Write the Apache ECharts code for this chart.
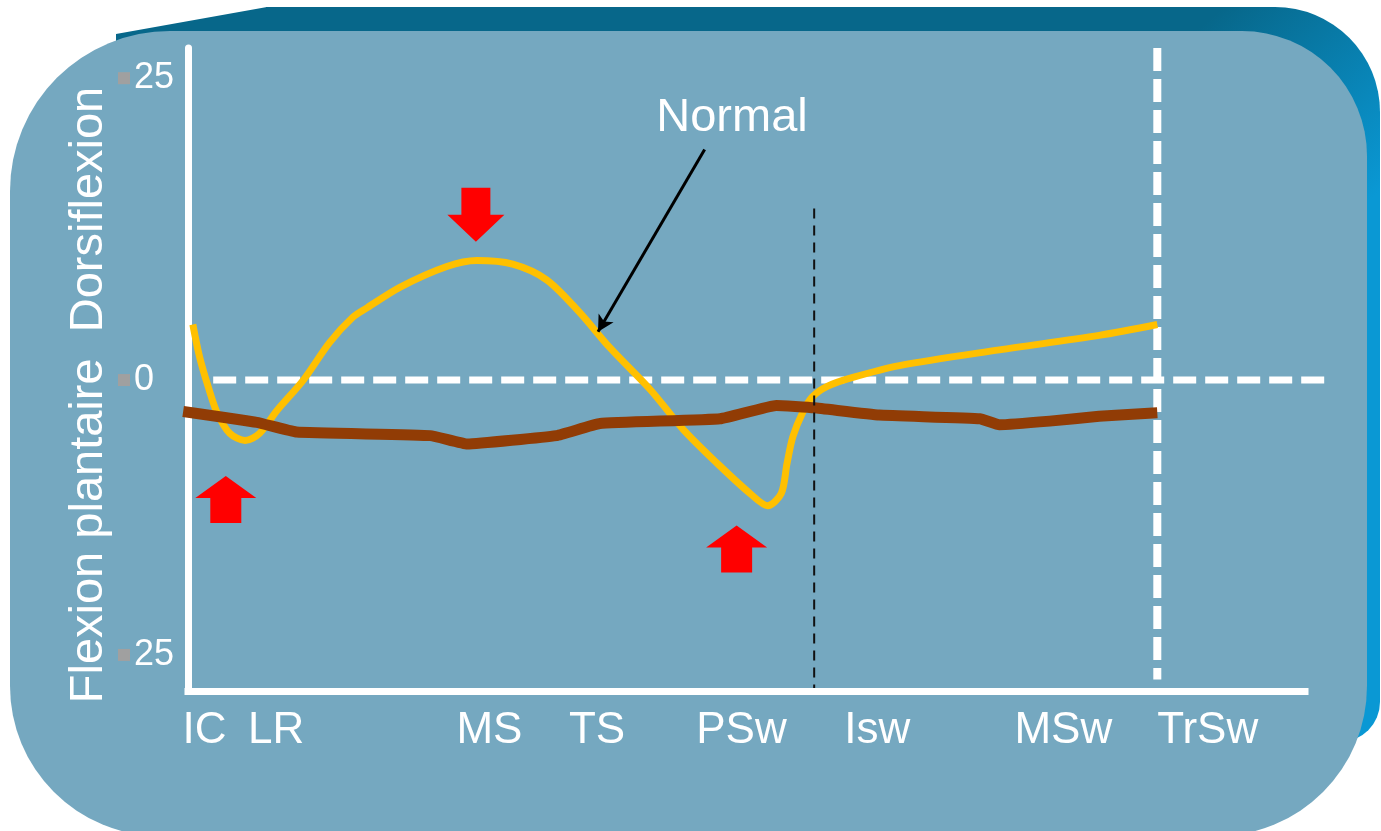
<!DOCTYPE html>
<html>
<head>
<meta charset="utf-8">
<title>Cheville - cycle de marche</title>
<script src="https://cdn.jsdelivr.net/npm/echarts@6/dist/echarts.min.js"></script>
<style>
html, body { margin: 0; padding: 0; background: #fff; }
#grafico { width: 1381px; height: 831px; }
</style>
</head>
<body>
<div id="grafico"></div>
<script>
// phases du cycle de marche (position en % du cycle)
const phases = ['IC', 'LR', 'MS', 'TS', 'PSw', 'Isw', 'MSw', 'TrSw'];
const phasesPos = [1.7, 9.1, 31.1, 42.2, 57.1, 71.1, 90.3, 105.2];

const yTicks = [25, 0, -25];
const yTicksTexte = ['25', '0', '25'];

// courbe normale (jaune)
const normalX = [0.5, 1.2, 2.1, 3.0, 4.3, 5.9, 7.4, 9.2, 11.9, 14.6, 17.0, 18.5, 21.9, 26.7, 29.8, 33.5, 37.0, 40.4, 43.5, 47.7, 51.1, 54.6, 58.0, 59.8, 61.2, 61.8, 62.4, 63.4, 64.4, 66.0, 68.5, 73.4, 83.7, 94.0, 100];
const normalY = [4.6, 1.9, -0.6, -2.7, -4.4, -5.0, -4.4, -2.5, 0, 3.1, 5.2, 6.0, 7.7, 9.4, 9.9, 9.6, 8.3, 5.6, 2.7, -0.8, -4.1, -6.9, -9.4, -10.4, -9.4, -6.9, -4.7, -2.7, -1.4, -0.5, 0.2, 1.2, 2.5, 3.7, 4.6];

// courbe du patient (marron)
const patientX = [-0.5, 7.1, 11.2, 25.0, 28.8, 38.0, 42.5, 54.9, 60.7, 64.6, 71.3, 81.7, 83.7, 88.9, 94.0, 100];
const patientY = [-2.6, -3.5, -4.3, -4.6, -5.3, -4.6, -3.6, -3.2, -2.1, -2.3, -2.9, -3.2, -3.7, -3.4, -3.0, -2.7];

// lignes de repere
const zeroDebut = 2.6, zeroFin = 117.3;
const finAppui = 64.6;
const finCycle = 100;

// fleches rouges [x, y]
const flechesHaut = [[3.9, -9.9], [56.6, -14.0]];
const flechesBas = [[29.7, 13.7]];

// fleche "Normal"
const normalDebut = [53.3, 19.1];
const normalFin = [42.3, 4.0];

// echelles
const xMaxAxe = 115.2;   // fin de l'axe horizontal dessine
const xMaxTrace = 117.3; // la ligne du zero depasse un peu l'axe
const yMin = -25.75, yMax = 27.5;

const police = '"Liberation Sans", Arial, sans-serif';

function zip(xs, ys) {
    return xs.map((x, i) => [x, ys[i]]);
}

let chart = echarts.init(document.getElementById('grafico'));

const option = {
    animation: false,
    backgroundColor: '#fff',
    grid: [
        { left: 188, right: 56, top: 48, bottom: 140 },
        { left: 188, right: 76, top: 48, bottom: 140 }
    ],
    xAxis: [
        {
            gridIndex: 0,
            type: 'value',
            min: 0,
            max: xMaxTrace,
            axisLine: { show: false },
            axisTick: { show: false },
            splitLine: { show: false },
            axisLabel: {
                customValues: phasesPos,
                formatter: v => phases[phasesPos.indexOf(v)],
                color: '#fff',
                fontSize: 44,
                fontFamily: police,
                margin: 18
            }
        },
        {
            gridIndex: 1,
            type: 'value',
            min: 0,
            max: xMaxAxe,
            axisLine: { show: true, onZero: false, lineStyle: { color: '#fff', width: 7, cap: 'square' } },
            axisTick: { show: false },
            splitLine: { show: false },
            axisLabel: { show: false }
        }
    ],
    yAxis: [
        {
            gridIndex: 0,
            type: 'value',
            min: yMin,
            max: yMax,
            axisLine: { show: true, onZero: false, lineStyle: { color: '#fff', width: 7 } },
            axisTick: { show: false },
            splitLine: { show: false },
            axisLabel: {
                customValues: yTicks,
                margin: 70,
                align: 'left',
                formatter: function (v) {
                    const t = yTicksTexte[yTicks.indexOf(v)];
                    return v < 0 ? '{sq|}{n|' + t + '}\n{n| }' : '{sq|}{n|' + t + '}';
                },
                rich: {
                    sq: { width: 12, height: 12, backgroundColor: '#a0a0a0', lineHeight: 54 },
                    n: { color: '#fff', fontSize: 36, fontFamily: police, lineHeight: 54, padding: [0, 0, 0, 4] }
                }
            }
        },
        {
            gridIndex: 1,
            type: 'value',
            min: yMin,
            max: yMax,
            axisLine: { show: false },
            axisTick: { show: false },
            splitLine: { show: false },
            axisLabel: { show: false }
        }
    ],
    graphic: [
        {
            type: 'rect', z: -20, silent: true,
            shape: { x: 266, y: 7, width: 1114, height: 735, r: [0, 105, 40, 0] },
            style: {
                fill: new echarts.graphic.LinearGradient(0.86, 0, 1, 0.25, [
                    { offset: 0, color: '#07678a' },
                    { offset: 1, color: '#0a98d4' }
                ])
            }
        },
        {
            type: 'polygon', z: -20, silent: true,
            shape: { points: [[116, 34], [267, 7], [300, 7], [300, 80], [116, 80]] },
            style: { fill: '#07678a' }
        },
        {
            type: 'rect', z: -19, silent: true,
            shape: { x: 10, y: 31, width: 1357, height: 805, r: [160, 125, 150, 150] },
            style: { fill: '#75a8c0' }
        },
        {
            type: 'text', z: 20, x: 89, y: 395, rotation: Math.PI / 2,
            style: {
                text: 'Flexion plantaire  Dorsiflexion',
                fill: '#fff', fontSize: 47, fontFamily: police,
                align: 'center', verticalAlign: 'middle'
            }
        },
        {
            type: 'text', z: 20, x: 732, y: 118,
            style: {
                text: 'Normal',
                fill: '#fff', fontSize: 47, fontFamily: police,
                align: 'center', verticalAlign: 'middle'
            }
        }
    ],
    series: [
        {
            name: 'zero',
            type: 'line',
            data: [[zeroDebut, 0], [zeroFin, 0]],
            symbol: 'none',
            silent: true,
            z: 2,
            lineStyle: { color: '#fff', width: 7, type: [23, 9] }
        },
        {
            name: 'fin cycle',
            type: 'line',
            data: [[finCycle, 27.5], [finCycle, -24.8]],
            symbol: 'none',
            silent: true,
            z: 2,
            lineStyle: { color: '#fff', width: 8, type: [23, 8] }
        },
        {
            name: 'Normal',
            type: 'line',
            data: zip(normalX, normalY),
            symbol: 'none',
            smooth: 0.3,
            z: 3,
            lineStyle: { color: '#ffc000', width: 7 }
        },
        {
            name: 'Patient',
            type: 'line',
            data: zip(patientX, patientY),
            symbol: 'none',
            smooth: 0.1,
            z: 4,
            lineStyle: { color: '#913c05', width: 11, join: 'round' }
        },
        {
            name: 'fin appui',
            type: 'line',
            data: [[finAppui, 14.2], [finAppui, -25.5]],
            symbol: 'none',
            silent: true,
            z: 5,
            lineStyle: { color: '#111', width: 2, type: [10, 7] },
            markLine: {
                silent: true,
                symbol: ['none', 'arrow'],
                symbolSize: [13, 16],
                label: { show: false },
                lineStyle: { color: '#000', width: 3, type: 'solid' },
                data: [[{ coord: normalDebut }, { coord: normalFin }]]
            }
        },
        {
            name: 'fleches haut',
            type: 'scatter',
            data: flechesHaut,
            symbol: 'path://M30.5,0 L61,22 L46,22 L46,47 L15,47 L15,22 L0,22 Z',
            symbolSize: [61, 47],
            z: 6,
            itemStyle: { color: '#ff0000', opacity: 1 }
        },
        {
            name: 'fleches bas',
            type: 'scatter',
            data: flechesBas,
            symbol: 'path://M14,0 L43,0 L43,27 L57,27 L28.5,54 L0,27 L14,27 Z',
            symbolSize: [57, 54],
            z: 6,
            itemStyle: { color: '#ff0000', opacity: 1 }
        }
    ]
};

chart.setOption(option);
</script>
</body>
</html>
